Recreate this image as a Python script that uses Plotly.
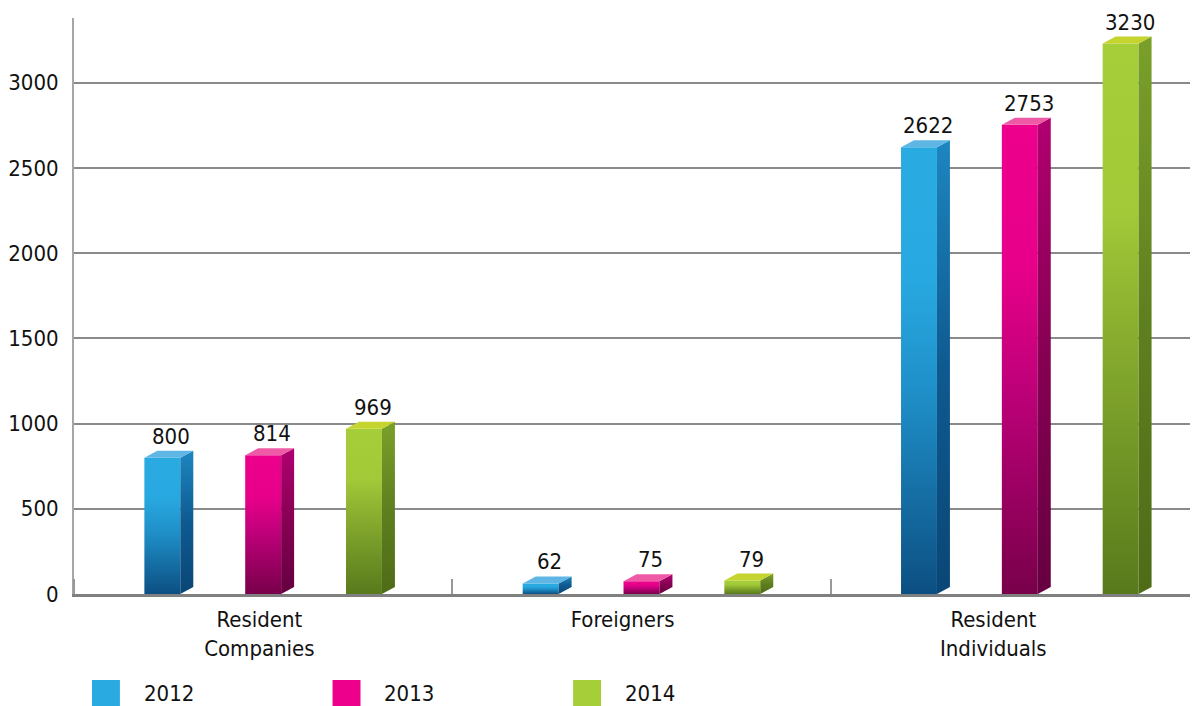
import plotly.graph_objects as go

CATEGORIES = ["Resident<br>Companies", "Foreigners", "Resident<br>Individuals"]
YEARS = ["2012", "2013", "2014"]
V_2012 = [800, 62, 2622]
V_2013 = [814, 75, 2753]
V_2014 = [969, 79, 3230]
Y_TICKS = [0, 500, 1000, 1500, 2000, 2500, 3000]

FONT = "DejaVu Sans Condensed, Liberation Sans Narrow, Roboto, sans-serif"
TXT = dict(family=FONT, size=22, color="#111111")

# colours per year: front gradient, side gradient, top face, legend swatch
PALETTE = {
    "2012": dict(
        front=[[0, "#0c4f82"], [0.45, "#1f8fc8"], [0.7, "#28a8e0"], [1, "#29abe2"]],
        side=[[0, "#0a4676"], [0.5, "#0e5a90"], [1, "#1d86c0"]],
        top="#5fb6e4", swatch="#29abe2"),
    "2013": dict(
        front=[[0, "#78004a"], [0.45, "#c0007a"], [0.7, "#e8008a"], [1, "#ec008c"]],
        side=[[0, "#650040"], [0.5, "#860052"], [1, "#b00070"]],
        top="#ee5aa6", swatch="#ec008c"),
    "2014": dict(
        front=[[0, "#587a1c"], [0.45, "#86ab2e"], [0.7, "#a2ca38"], [1, "#a6ce39"]],
        side=[[0, "#4e6b17"], [0.5, "#5f801f"], [1, "#7aa02a"]],
        top="#c6d42f", swatch="#a6ce39"),
}

# ── geometry (figure px; page body adds an 8px offset) ───────
W, H = 1190, 698
M_L, M_R, M_T, M_B = 64, 0, 10, 112
PLOT_W = W - M_L - M_R
PLOT_H = H - M_T - M_B
CAT_PX = 379
X_MIN = -0.5
X_MAX = X_MIN + PLOT_W / CAT_PX
Y_MAX = 3380

BAR_W = 36 / CAT_PX
STEP = 101 / CAT_PX
DX = 13 / CAT_PX
DY = 7 * Y_MAX / PLOT_H

fig = go.Figure()
annotations = []

for j, (year, vals) in enumerate(zip(YEARS, [V_2012, V_2013, V_2014])):
    pal = PALETTE[year]
    for i, v in enumerate(vals):
        xc = i + (j - 1) * STEP
        x0, x1 = xc - BAR_W / 2, xc + BAR_W / 2
        # front face
        fig.add_trace(go.Scatter(
            x=[x0, x1, x1, x0, x0], y=[0, 0, v, v, 0],
            mode="lines", line=dict(width=0), fill="toself",
            fillgradient=dict(type="vertical", colorscale=pal["front"]),
            name=year, showlegend=False, hoverinfo="skip"))
        # side face
        fig.add_trace(go.Scatter(
            x=[x1, x1 + DX, x1 + DX, x1, x1], y=[0, DY, v + DY, v, 0],
            mode="lines", line=dict(width=0), fill="toself",
            fillgradient=dict(type="vertical", colorscale=pal["side"]),
            showlegend=False, hoverinfo="skip"))
        # top face
        fig.add_trace(go.Scatter(
            x=[x0, x1, x1 + DX, x0 + DX, x0], y=[v, v, v + DY, v + DY, v],
            mode="lines", line=dict(width=0), fill="toself",
            fillcolor=pal["top"], showlegend=False, hoverinfo="skip"))
        annotations.append(dict(
            x=xc + DX * 0.7, y=v + DY, xref="x", yref="y",
            text=str(v), showarrow=False, yanchor="bottom", yshift=0, font=TXT))


# ── legend drawn in paper coords ─────────────────────────────
def px_x(px):
    return (px - M_L) / PLOT_W


def px_y(py):
    return (H - M_B - py) / PLOT_H


shapes = []
for k, year in enumerate(YEARS):
    left = 82 + k * 241
    shapes.append(dict(type="rect", xref="paper", yref="paper",
                       x0=px_x(left), x1=px_x(left + 28),
                       y0=px_y(698), y1=px_y(672),
                       fillcolor=PALETTE[year]["swatch"], line=dict(width=0)))
    annotations.append(dict(x=px_x(left + 50), y=px_y(685), xref="paper", yref="paper",
                            text=year, showarrow=False, xanchor="left", yanchor="middle",
                            font=TXT))

fig.update_layout(
    width=W, height=H,
    margin=dict(l=M_L, r=M_R, t=M_T, b=M_B),
    paper_bgcolor="white", plot_bgcolor="white",
    font=TXT,
    showlegend=False,
    shapes=shapes,
    annotations=annotations,
    xaxis=dict(range=[X_MIN, X_MAX], tickvals=[-0.01, 0.95, 1.93], ticktext=CATEGORIES,
               showgrid=False, zeroline=False, showline=True,
               linecolor="#808080", linewidth=2.5, ticks="", ticklabelstandoff=4,
               minor=dict(ticks="inside", ticklen=15, tickwidth=2, tickcolor="#999999",
                          tick0=0.5, dtick=1, showgrid=False)),
    yaxis=dict(range=[0, Y_MAX], tickvals=Y_TICKS, showgrid=True,
               gridcolor="#8a8a8a", gridwidth=1.5, zeroline=False,
               showline=True, linecolor="#a6a6a6", linewidth=2,
               ticks="", ticklabelstandoff=9),
)

fig.write_html("out.html")
